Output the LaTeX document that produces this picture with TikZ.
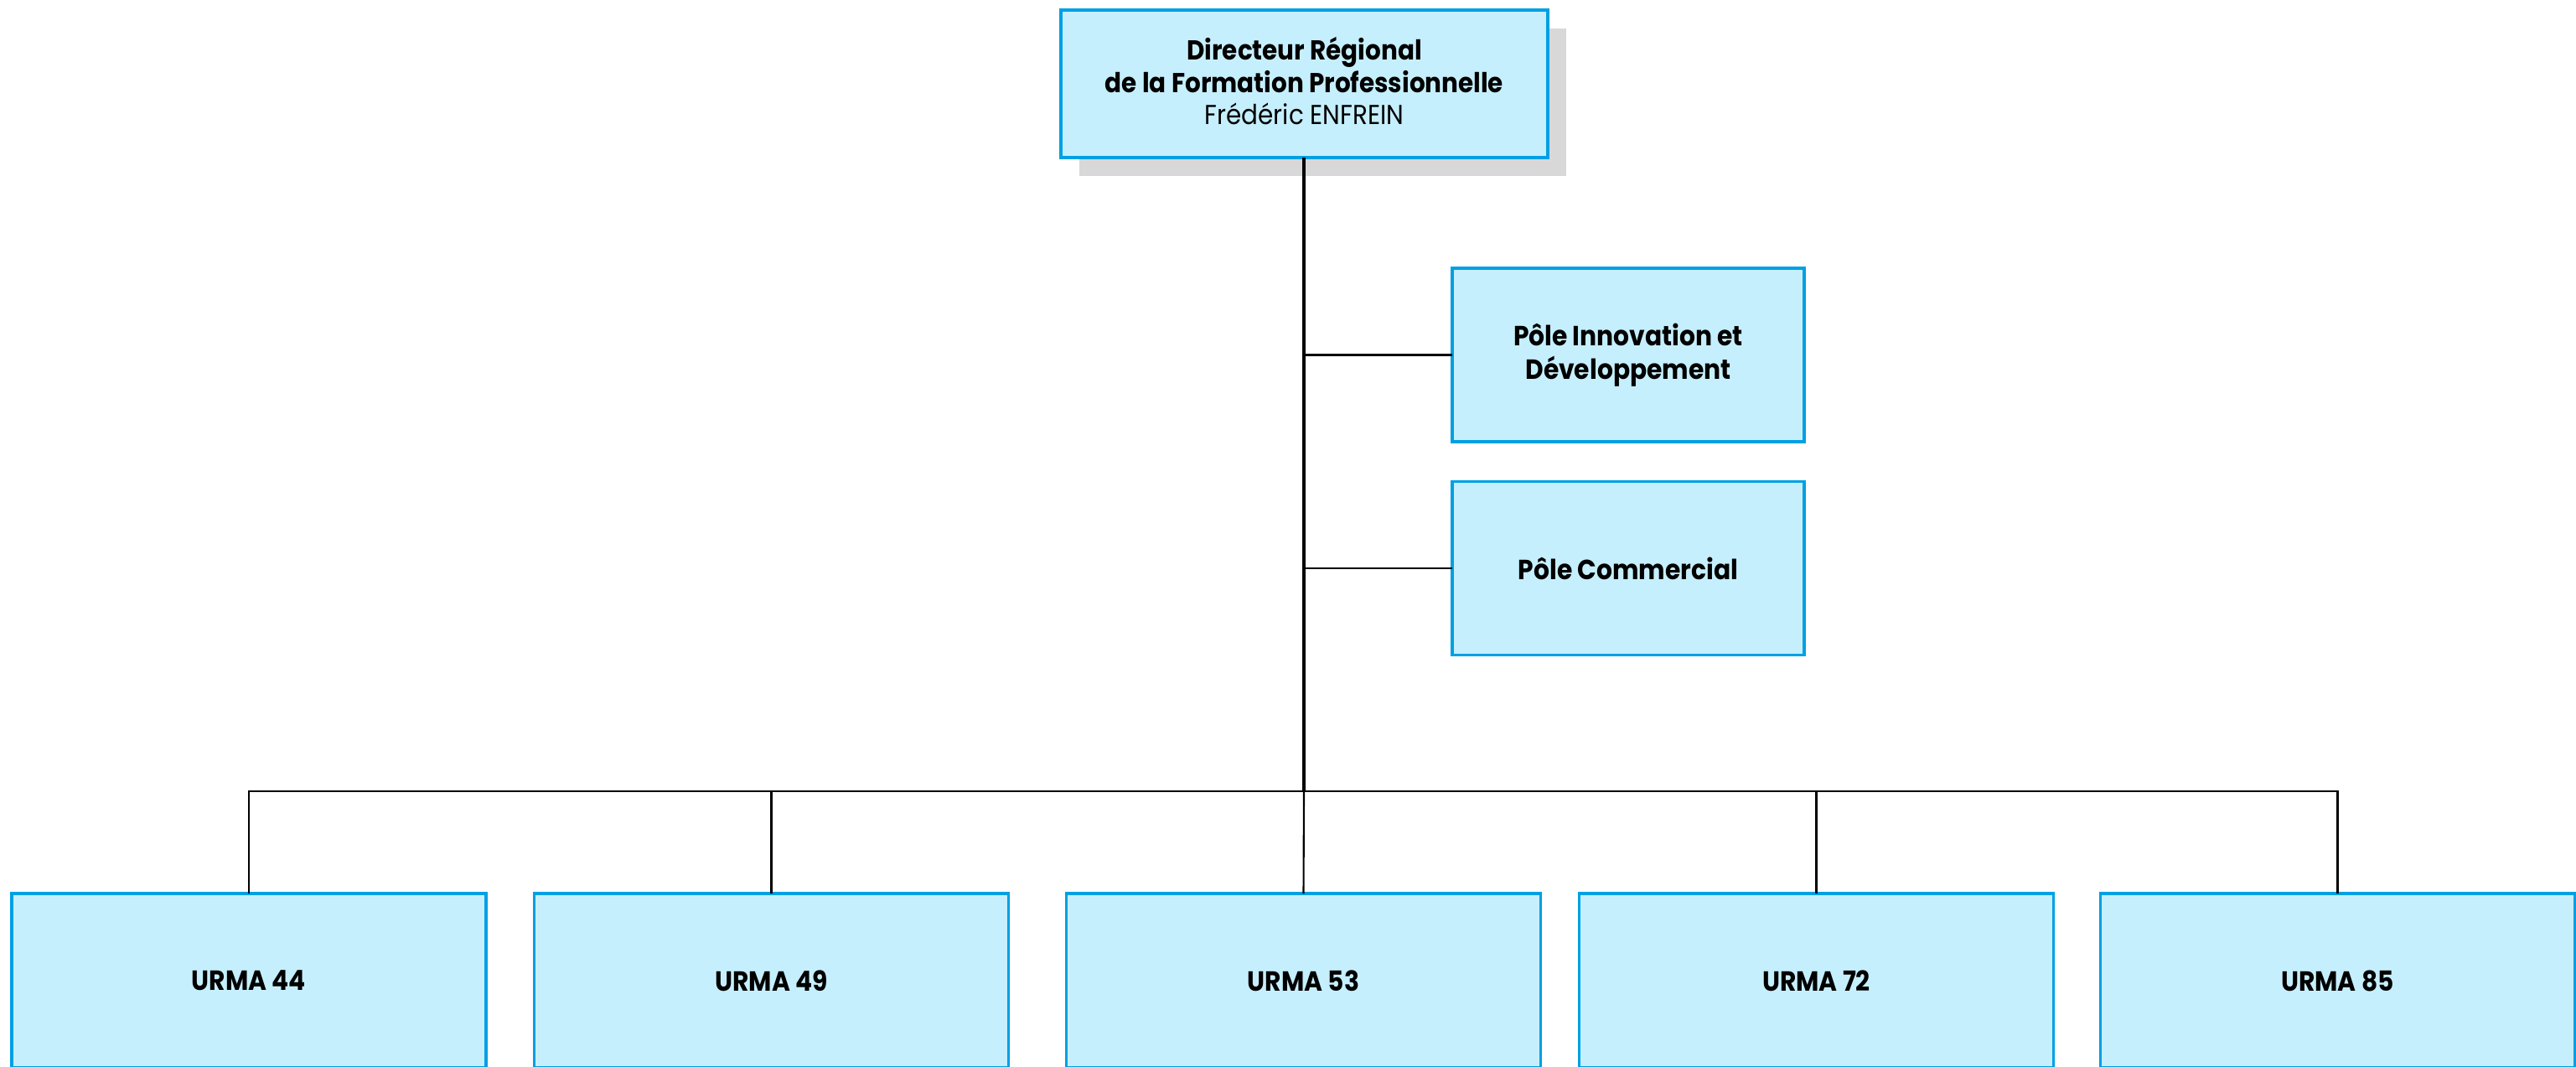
\documentclass[tikz,border=0pt]{standalone}
\usepackage{fontspec}
\setmainfont{Poppins}[FakeStretch=0.9]
\usetikzlibrary{shadows}
\definecolor{boxfill}{RGB}{198,239,253}
\definecolor{boxline}{RGB}{0,160,227}
\definecolor{shgray}{RGB}{216,216,216}
\tikzset{
  orgbox/.style={draw=boxline, fill=boxfill, line width=1pt, inner sep=0pt, outer sep=0pt,
    align=center, font=\fontsize{9.4}{11.2}\selectfont\bfseries},
  topbox/.style={orgbox, minimum width=5.81cm, minimum height=1.76cm,
    font=\fontsize{9.3}{10.9}\selectfont,
    drop shadow={shadow xshift=0.22cm, shadow yshift=-0.22cm, fill=shgray, opacity=1}},
  polebox/.style={orgbox, minimum width=4.20cm, minimum height=2.07cm},
  urmabox/.style={orgbox, minimum width=5.66cm, minimum height=2.08cm},
  trunk/.style={draw=black, line width=0.9pt},
  branch/.style={draw=black, line width=0.6pt},
}
\begin{document}
\begin{tikzpicture}
\useasboundingbox (0,0) rectangle (30.74,-12.72);
\node[topbox] (top) at (15.565,-1.00)
  {{\bfseries Directeur Régional}\\{\bfseries de la Formation Professionnelle}\\Frédéric ENFREIN\rule[-0.4ex]{0pt}{0pt}};
\node[polebox] (p1) at (19.43,-4.235) {Pôle Innovation et\\Développement};
\node[polebox] (p2) at (19.43,-6.78) {Pôle Commercial};
\node[urmabox] (u1) at (2.97,-11.70) {URMA 44};
\node[urmabox] (u2) at (9.205,-11.70) {URMA 49};
\node[urmabox] (u3) at (15.555,-11.70) {URMA 53};
\node[urmabox] (u4) at (21.675,-11.70) {URMA 72};
\node[urmabox] (u5) at (27.895,-11.70) {URMA 85};
\coordinate (j) at (15.56,-9.44);
\draw[branch] (p1.west) -- (p1.west -| j);
\draw[branch] (p2.west) -- (p2.west -| j);
\draw[branch] (u1.north) |- (j) -| (u5.north);
\draw[branch] (u2.north) -- (u2.north |- j);
\draw[branch] (u4.north) -- (u4.north |- j);
\draw[branch] (u3.north) -- (j);
\draw[trunk] (top.south -| j) -- (j);
\end{tikzpicture}
\end{document}
